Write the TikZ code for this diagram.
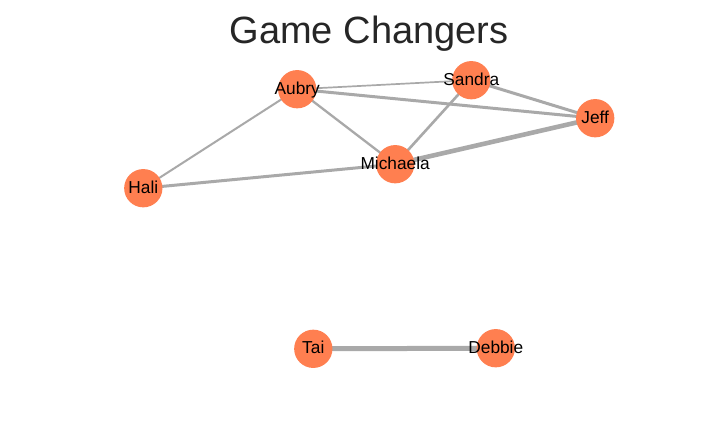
\documentclass[tikz,border=0pt]{standalone}
\usepackage{fontspec}
\setmainfont{Liberation Sans}
\definecolor{nodecoral}{HTML}{FF7F50}
\definecolor{edgegray}{HTML}{A9A9A9}
\definecolor{titlegray}{HTML}{262626}
\begin{document}
\begin{tikzpicture}[x=1pt,y=-1pt,
  vert/.style={circle,fill=nodecoral,draw=none,minimum size=38.3pt,inner sep=0pt},
  lbl/.style={font=\fontsize{17.3}{20}\selectfont,text=black,inner sep=0pt,anchor=base},
  edge/.style={draw=edgegray,line cap=butt}]
\useasboundingbox[fill=white] (0,0) rectangle (720,432);
\node[font=\fontsize{38}{42}\selectfont,text=titlegray,anchor=base,inner sep=0pt] (title) at (369,43.5) {Game Changers};
% node coordinates
\coordinate (cA) at (297.2,89.2);
\coordinate (cS) at (471.3,80.2);
\coordinate (cJ) at (595.2,118.2);
\coordinate (cM) at (395.2,164.2);
\coordinate (cH) at (143.3,188.2);
\coordinate (cT) at (313.3,348.8);
\coordinate (cD) at (495.8,348.2);
% edges (behind nodes)
\draw[edge,line width=1.7pt] (cA) -- (cS);
\draw[edge,line width=3pt] (cA) -- (cJ);
\draw[edge,line width=2pt] (cA) -- (cH);
\draw[edge,line width=2.3pt] (cA) -- (cM);
\draw[edge,line width=3pt] (cS) -- (cJ);
\draw[edge,line width=2.6pt] (cS) -- (cM);
\draw[edge,line width=4.6pt] (cM) -- (cJ);
\draw[edge,line width=3pt] (cH) -- (cM);
\draw[edge,line width=5pt] (cT) -- (cD);
% nodes
\node[vert] (Aubry) at (cA) {};
\node[vert] (Sandra) at (cS) {};
\node[vert] (Jeff) at (cJ) {};
\node[vert] (Michaela) at (cM) {};
\node[vert] (Hali) at (cH) {};
\node[vert] (Tai) at (cT) {};
\node[vert] (Debbie) at (cD) {};
% labels
\node[lbl] (lAubry) at ([yshift=-4.8pt]Aubry.center) {Aubry};
\node[lbl] (lSandra) at ([yshift=-4.8pt]Sandra.center) {Sandra};
\node[lbl] (lJeff) at ([yshift=-4.8pt]Jeff.center) {Jeff};
\node[lbl] (lMichaela) at ([yshift=-4.8pt]Michaela.center) {Michaela};
\node[lbl] (lHali) at ([yshift=-4.8pt]Hali.center) {Hali};
\node[lbl] (lTai) at ([yshift=-4.8pt]Tai.center) {Tai};
\node[lbl] (lDebbie) at ([yshift=-4.8pt]Debbie.center) {Debbie};
\end{tikzpicture}
\end{document}
